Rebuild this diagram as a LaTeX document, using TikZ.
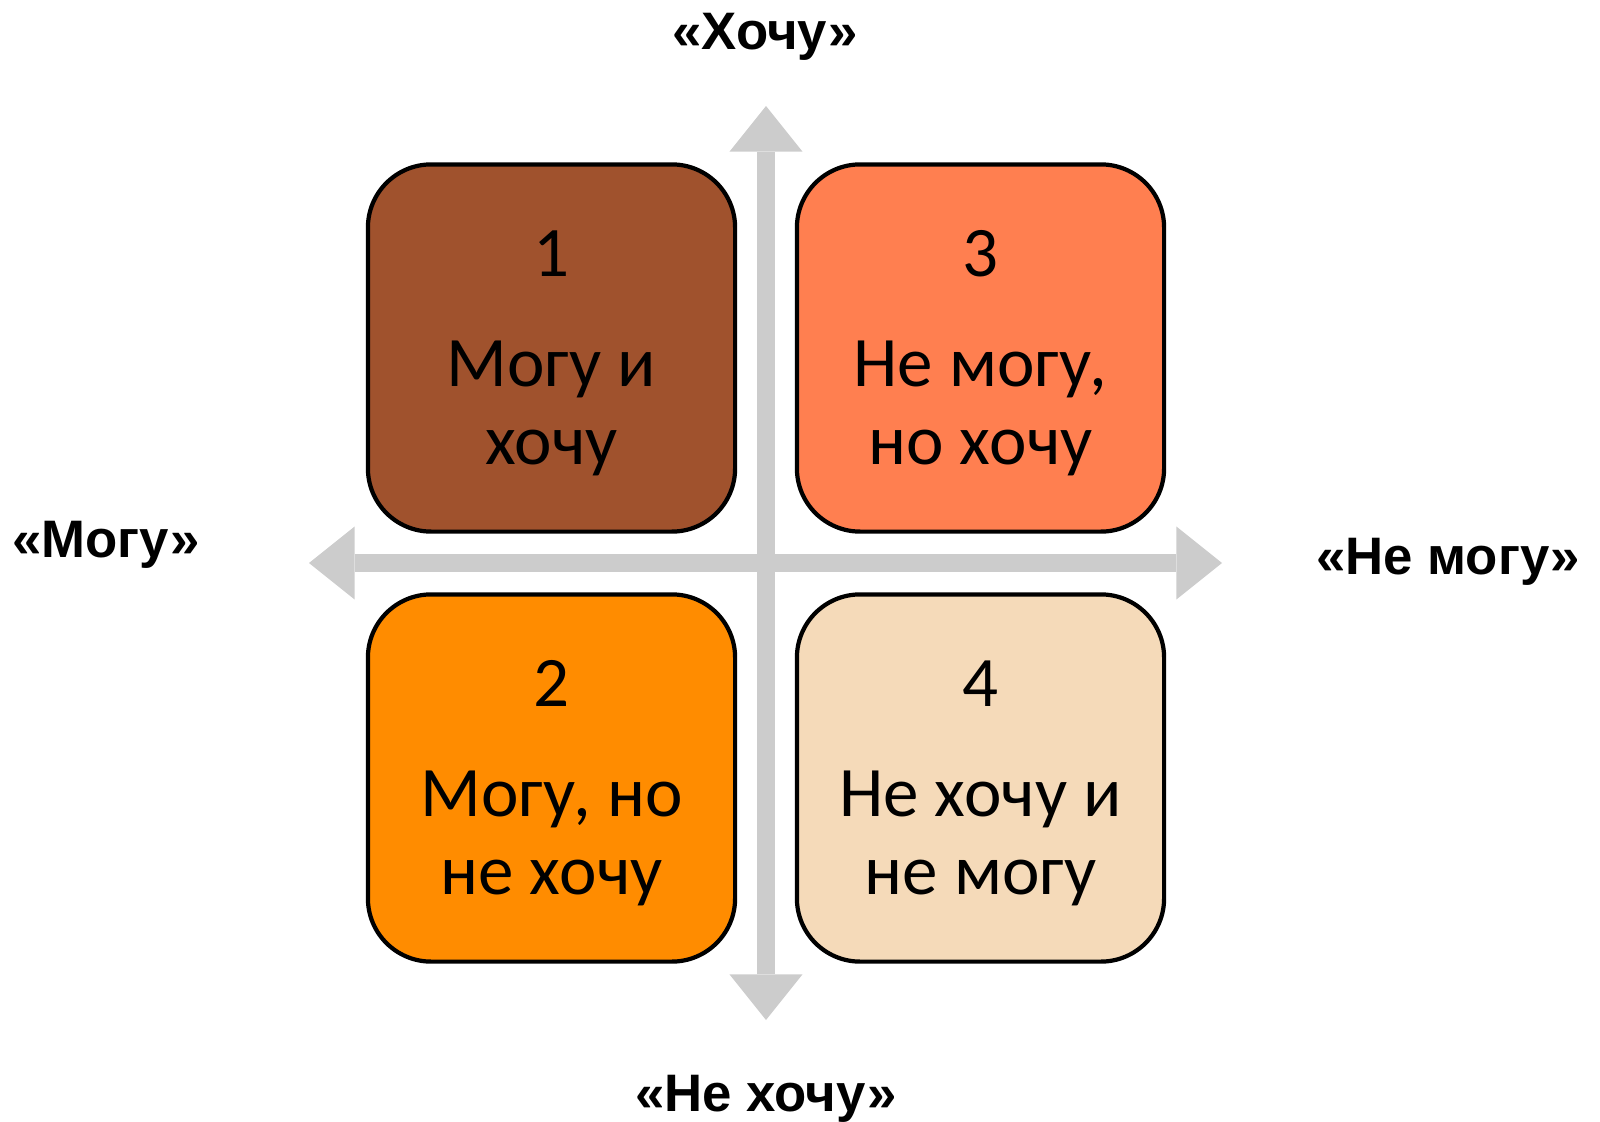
\documentclass[tikz,border=0pt]{standalone}
\usepackage{fontspec}
\setmainfont{Carlito}
\newfontfamily\axfont{Liberation Sans}
\usetikzlibrary{arrows.meta,positioning}
\definecolor{q_brun}{HTML}{A0522D}
\definecolor{q_corail}{HTML}{FF7F50}
\definecolor{q_orange}{HTML}{FF8C00}
\definecolor{q_ble}{HTML}{F5DAB9}
\definecolor{ax_gris}{HTML}{CCCCCC}
\tikzset{
  quad_box/.style = {draw=black, line width=1.2pt, rounded corners=18pt,
    minimum width=3.67cm, minimum height=3.67cm},% case du carre
  quad_txt/.style = {align=center, inner sep=0pt,
    font=\fontsize{20.2}{22.2}\selectfont},% texte de la case
  axe_lbl/.style = {anchor=base, inner sep=0pt,
    font=\axfont\bfseries\fontsize{15}{18}\selectfont},% nom d'axe
  axe_arr/.style = {draw=ax_gris, line width=5.1pt,
    arrows={Triangle[width=20.8pt,length=13pt,line width=0pt]-Triangle[width=20.8pt,length=13pt,line width=0pt]}}% fleche d'axe
}
\begin{document}
\begin{tikzpicture}[x=0.01cm,y=-0.01cm]
        \useasboundingbox (0,0) rectangle (1600,1121);
        % axes
        \coordinate (haut) at (766,106);
        \coordinate (bas) at (766,1020);
        \coordinate (gauche) at (309,563);
        \coordinate (droite) at (1222,563);
        \draw [axe_arr] (bas) -- (haut);
        \draw [axe_arr] (gauche) -- (droite);
        % cases
        \node [quad_box, fill=q_brun] (q1) at (551.5,348) {};
        \node [quad_box, fill=q_corail] (q3) at (980.5,348) {};
        \node [quad_box, fill=q_orange] (q2) at (551.5,778) {};
        \node [quad_box, fill=q_ble] (q4) at (980.5,778) {};
        \node [quad_txt] (t1) at ([yshift=-1.5pt]q1.center) {1\\[9pt]Могу и\\хочу};
        \node [quad_txt] (t3) at ([yshift=-1.5pt]q3.center) {3\\[9pt]Не могу,\\но хочу};
        \node [quad_txt] (t2) at ([yshift=-1.5pt]q2.center) {2\\[9pt]Могу, но\\не хочу};
        \node [quad_txt] (t4) at ([yshift=-1.5pt]q4.center) {4\\[9pt]Не хочу и\\не могу};
        % noms des axes
        \node [axe_lbl] (lh) at (765,49) {«Хочу»};
        \node [axe_lbl] (lb) at (766,1111) {«Не хочу»};
        \node [axe_lbl] (lg) at (106,557) {«Могу»};
        \node [axe_lbl] (ld) at (1448,574) {«Не могу»};
\end{tikzpicture}
\end{document}
